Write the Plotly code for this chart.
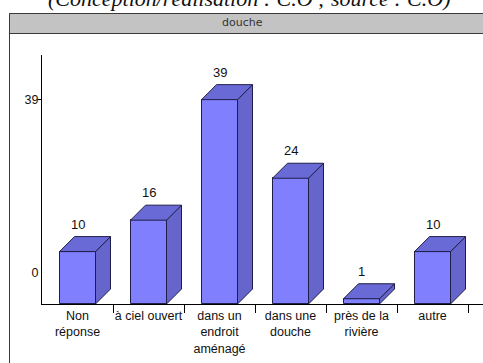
import plotly.graph_objects as go

# Survey results: where people wash ("douche")
categories = ["Non<br>réponse", "à ciel ouvert", "dans un<br>endroit<br>aménagé",
              "dans une<br>douche", "près de la<br>rivière", "autre"]
counts = [10, 16, 39, 24, 1, 10]
y_tick_text = ["0", "39"]
y_tick_pos = [5.9, 39]

# Figure geometry (pixels)
W, H = 483, 363
ML, MR, MT, MB = 42, 0, 55, 59
plot_w, plot_h = W - ML - MR, H - MT - MB
slot_px = 71.0          # width of one category
unit_px = 5.24          # pixels per count
bar_px = 36.0           # front face width
depth_px = 15.0         # 3D depth offset

x_range = [-0.5, -0.5 + plot_w / slot_px]
y_range = [0, plot_h / unit_px]
bw = bar_px / slot_px
dx = depth_px / slot_px
dy = depth_px / unit_px

FRONT = "#8080ff"
SIDE = "#6565cc"
TOP = "#6a6ad6"
EDGE = "#1e1e48"

xs = list(range(len(counts)))

fig = go.Figure()
fig.add_trace(go.Bar(x=xs, y=counts, width=bw, marker=dict(color=FRONT, line=dict(color=EDGE, width=1)),
                     hoverinfo="skip", showlegend=False))

side_x, side_y, top_x, top_y = [], [], [], []
for x, v in zip(xs, counts):
    x0, x1 = x - bw / 2, x + bw / 2
    side_x += [x1, x1, x1 + dx, x1 + dx, x1, None]
    side_y += [0, v, v + dy, dy, 0, None]
    top_x += [x0, x0 + dx, x1 + dx, x1, x0, None]
    top_y += [v, v + dy, v + dy, v, v, None]

fig.add_trace(go.Scatter(x=side_x, y=side_y, mode="lines", fill="toself", fillcolor=SIDE,
                         line=dict(color=EDGE, width=1), hoverinfo="skip", showlegend=False))
fig.add_trace(go.Scatter(x=top_x, y=top_y, mode="lines", fill="toself", fillcolor=TOP,
                         line=dict(color=EDGE, width=1), hoverinfo="skip", showlegend=False))

FONT = "Liberation Sans"
for x, v in zip(xs, counts):
    fig.add_annotation(x=x, y=v + dy, text=str(v), showarrow=False, yanchor="bottom", yshift=3,
                       font=dict(family=FONT, size=13, color="#111"))


def px_x(p):
    return (p - ML) / plot_w


def px_y(p):
    return (H - MB - p) / plot_h


# Frame and title band
fig.add_shape(type="rect", xref="paper", yref="paper", x0=px_x(9.5), x1=px_x(W + 20),
              y0=px_y(H + 20), y1=px_y(13.5), line=dict(color="#3a3a3a", width=1), fillcolor="rgba(0,0,0,0)", layer="below")
fig.add_shape(type="rect", xref="paper", yref="paper", x0=px_x(9.5), x1=px_x(W + 20),
              y0=px_y(33.5), y1=px_y(13.5), line=dict(color="#3a3a3a", width=1), fillcolor="#c3c3c3", layer="below")
fig.add_annotation(xref="paper", yref="paper", x=px_x(242), y=px_y(23), text="douche", showarrow=False,
                   yanchor="middle", font=dict(family="DejaVu Sans", size=11, color="#333"))

fig.add_annotation(xref="paper", yref="paper", x=px_x(249), y=px_y(-2), text="(Conception/réalisation : C.O ; source : C.O)",
                   showarrow=False, yanchor="middle",
                   font=dict(family="Liberation Serif", size=22, color="#111", style="italic"))

fig.update_layout(
    width=W, height=H, margin=dict(l=ML, r=MR, t=MT, b=MB, autoexpand=False),
    paper_bgcolor="white", plot_bgcolor="white", bargap=0,
    xaxis=dict(range=x_range, tickvals=xs, ticktext=categories, ticks="", showgrid=False, zeroline=False,
               showline=True, linecolor="#000", linewidth=1, tickfont=dict(family=FONT, size=12.5, color="#111"),
               minor=dict(tickvals=[x + 0.5 for x in xs], ticks="outside", ticklen=8, tickcolor="#000")),
    yaxis=dict(range=y_range, tickvals=y_tick_pos, ticktext=y_tick_text, ticks="", showgrid=False, zeroline=False,
               showline=True, linecolor="#000", linewidth=1, tickfont=dict(family=FONT, size=12.5, color="#111"),
               minor=dict(tickvals=[39], ticks="outside", ticklen=3, tickcolor="#000")),
)

fig.write_html("out.html")
